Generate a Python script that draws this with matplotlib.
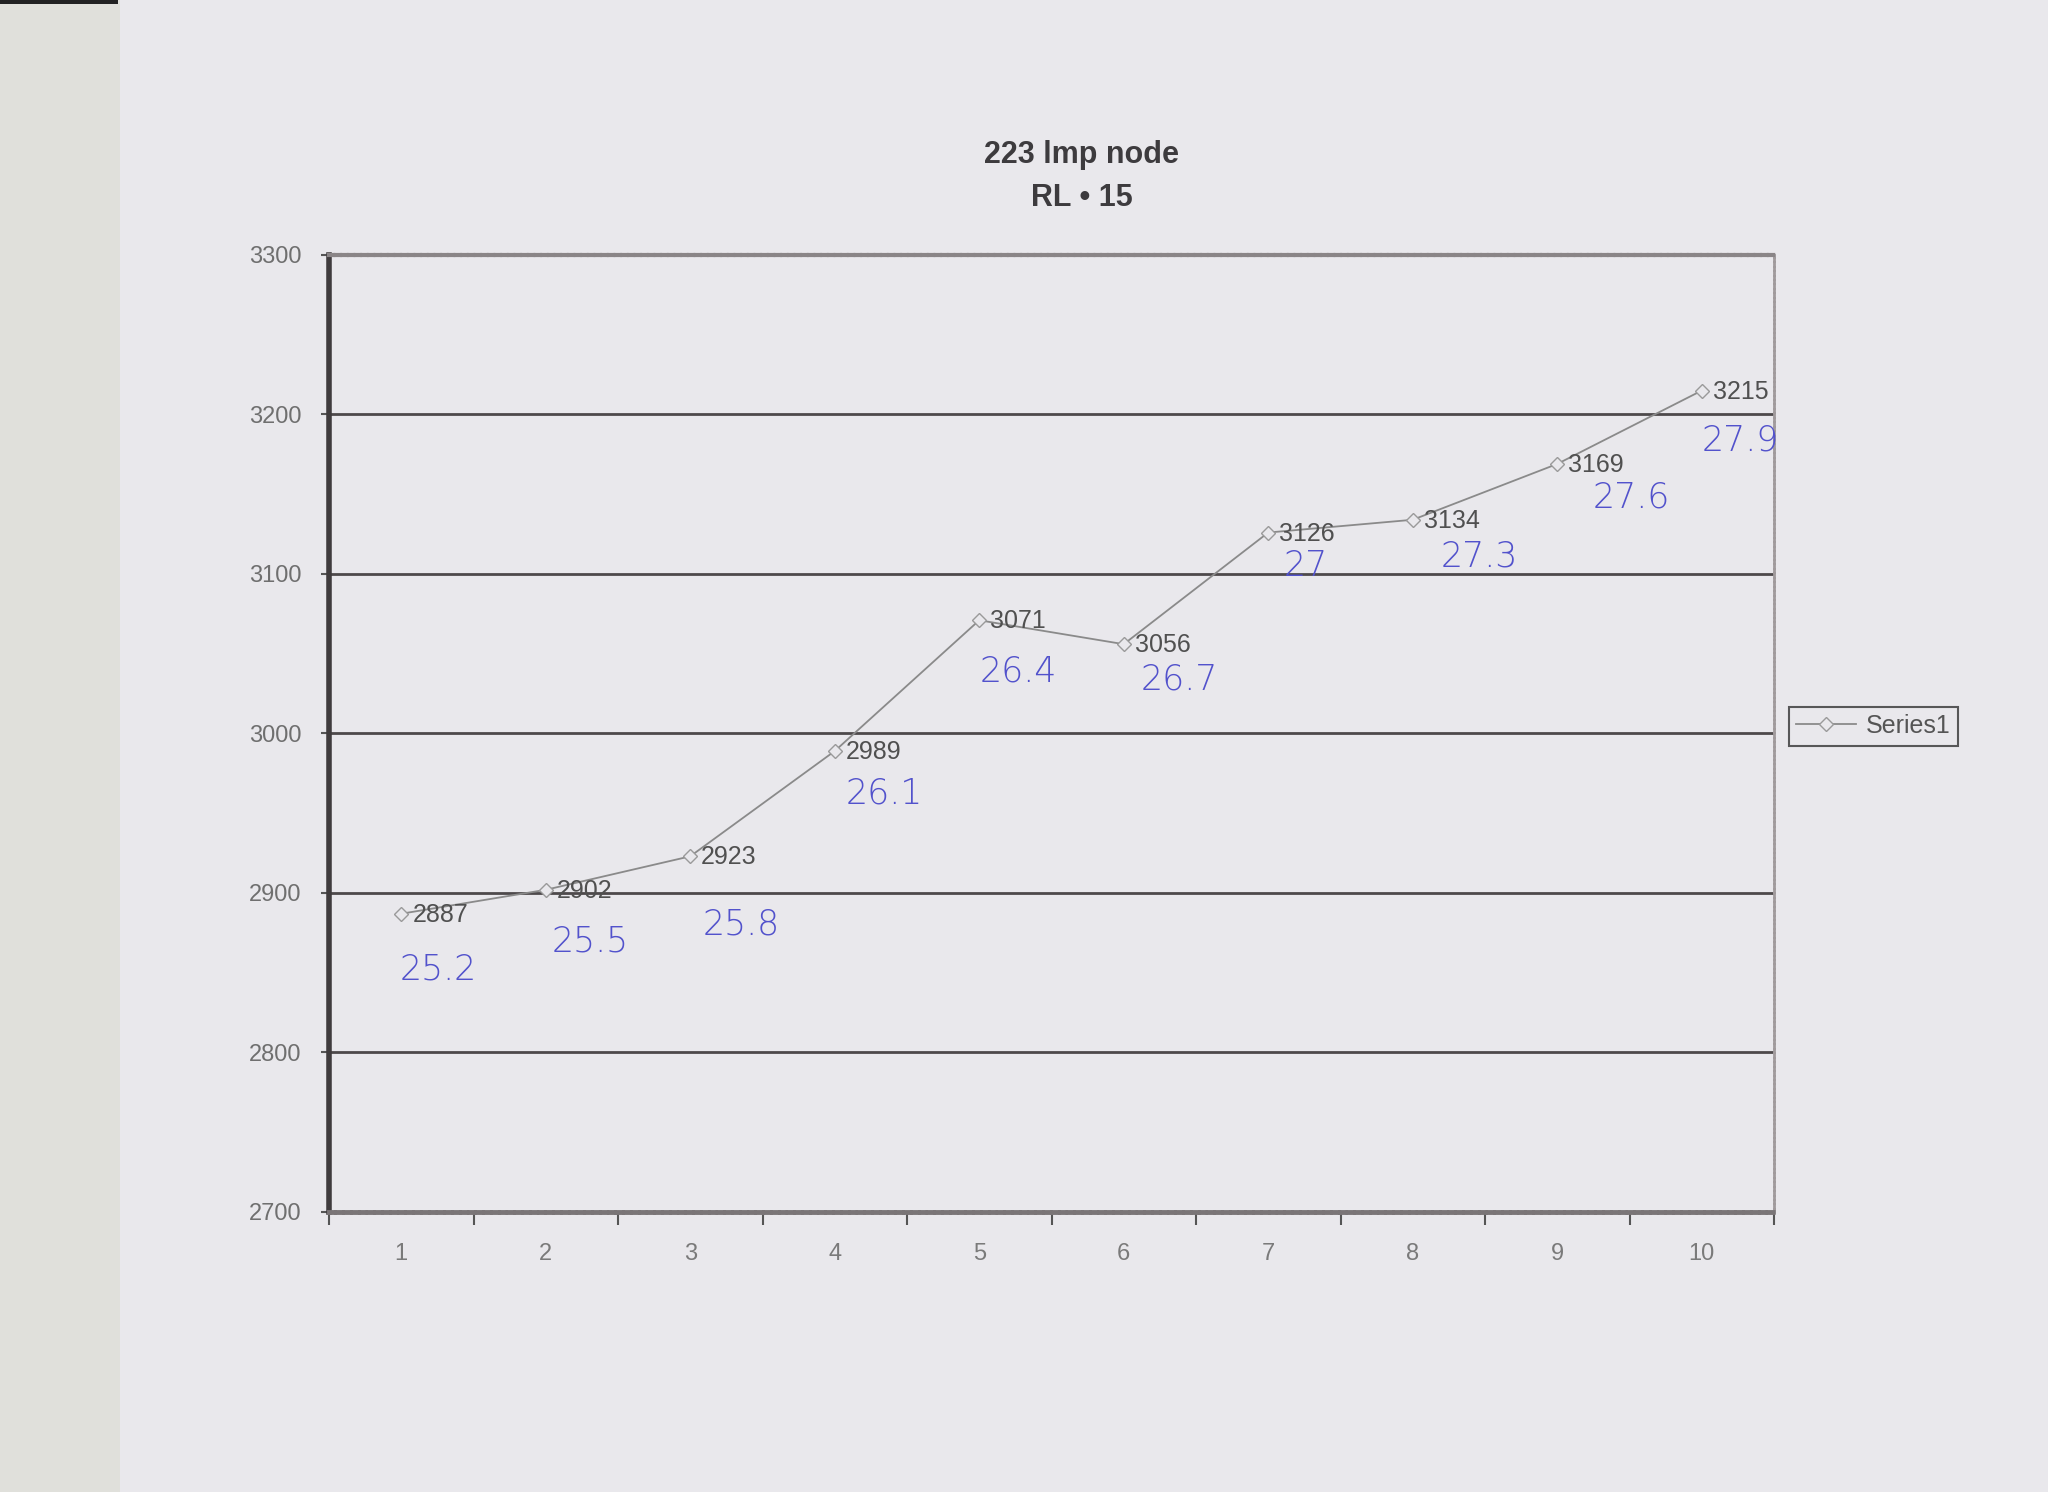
import numpy as np
import matplotlib.pyplot as plt
from matplotlib.patches import Rectangle

# values printed on the chart
runs = [1, 2, 3, 4, 5, 6, 7, 8, 9, 10]
values = [2887, 2902, 2923, 2989, 3071, 3056, 3126, 3134, 3169, 3215]
# hand-written notes next to each point
notes = ['25.2', '25.5', '25.8', '26.1', '26.4', '26.7', '27', '27.3', '27.6', '27.9']
y_ticks = [2700, 2800, 2900, 3000, 3100, 3200, 3300]

# pixel offsets of the handwriting relative to each point (layout only)
note_dx = [37, 44, 51, 50, 39, 56, 38, 67, 74, 39]
note_dy = [-56, -52, -68, -42, -51, -35, -33, -37, -34, -50]

paper = '#e9e8ec'
fig = plt.figure(figsize=(20.48, 14.92), dpi=100, facecolor=paper)
fig.patches.append(Rectangle((0, 0), 120 / 2048, 1, transform=fig.transFigure,
                             facecolor='#e0e0db', edgecolor='none', zorder=0))
fig.patches.append(Rectangle((0, 1 - 4 / 1492), 118 / 2048, 4 / 1492, transform=fig.transFigure,
                             facecolor='#222222', edgecolor='none', zorder=1))

ax = fig.add_axes([329 / 2048, 1 - 1212 / 1492, 1445 / 2048, 957 / 1492])
ax.set_facecolor(paper)

line, = ax.plot(runs, values, color='#8a8a8a', lw=1.3, marker='D', markersize=7,
                markerfacecolor=paper, markeredgecolor='#9a9a9a', markeredgewidth=1,
                label='Series1', zorder=3)

for x, v in zip(runs, values):
    ax.annotate(str(v), (x, v), xytext=(11, -1), textcoords='offset pixels',
                ha='left', va='center', fontsize=18, color='#505050',
                family='Liberation Sans')

for x, v, n, dx, dy in zip(runs, values, notes, note_dx, note_dy):
    ax.annotate(n, (x, v), xytext=(dx, dy), textcoords='offset pixels',
                ha='center', va='center', fontsize=25, color='#5252cc',
                family='DejaVu Sans', fontweight='light')

ax.set_xlim(0.5, 10.5)
ax.set_ylim(2700, 3300)
ax.set_yticks(y_ticks)
ax.set_yticklabels([str(t) for t in y_ticks], fontsize=17, color='#6f6f6f',
                   family='Liberation Sans')
ax.set_xticks(runs)
ax.set_xticklabels([str(r) for r in runs], fontsize=17, color='#7a7a7a',
                   family='Liberation Sans')
ax.set_xticks(np.arange(0.5, 11, 1), minor=True)
ax.tick_params(axis='x', which='major', length=0, pad=22)
ax.tick_params(axis='x', which='minor', length=9, width=1.5, color='#555555', direction='out')
ax.tick_params(axis='y', length=6, width=1.5, color='#555555', pad=14)

for y in y_ticks[1:-1]:
    ax.axhline(y, color='#4d494b', lw=2, zorder=1)

ax.spines['left'].set_color('#3f3b3d')
ax.spines['left'].set_linewidth(4)
ax.spines['bottom'].set_color('#7a7577')
ax.spines['bottom'].set_linewidth(3.5)
ax.spines['bottom'].set_linestyle((0, (1, 0.6)))
ax.spines['top'].set_color('#8a8587')
ax.spines['top'].set_linewidth(3)
ax.spines['top'].set_linestyle((0, (1, 0.6)))
ax.spines['right'].set_color('#a09a9c')
ax.spines['right'].set_linewidth(2)
ax.spines['right'].set_linestyle((0, (1, 0.6)))

fig.text(1082 / 2048, 1 - 155 / 1492, '223 lmp node', ha='center', va='center',
         fontsize=22, fontweight='bold', color='#3d3b3e', family='Liberation Sans')
fig.text(1082 / 2048, 1 - 198 / 1492, 'RL \u2022 15', ha='center', va='center',
         fontsize=22, fontweight='bold', color='#3d3b3e', family='Liberation Sans')

leg = fig.legend(handles=[line], loc='center left',
                 bbox_to_anchor=(1776 / 2048, 1 - 726 / 1492),
                 frameon=True, fancybox=False, handlelength=2.4,
                 borderpad=0.3, handletextpad=0.4, prop={'family': 'Liberation Sans', 'size': 18})
leg.get_frame().set_edgecolor('#333333')
leg.get_frame().set_linewidth(1.5)
leg.get_frame().set_facecolor(paper)
for t in leg.get_texts():
    t.set_color('#555555')

fig.savefig('out.png', dpi=100, facecolor=paper)
